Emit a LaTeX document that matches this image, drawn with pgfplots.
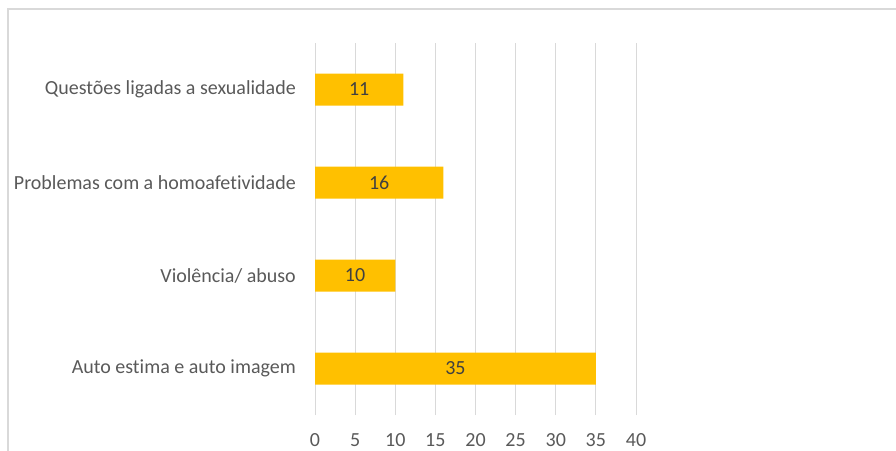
\documentclass[border=0pt]{standalone}
\usepackage{fontspec}
\setmainfont{Carlito}[Ligatures=NoCommon]
\usepackage{pgfplots}
\pgfplotsset{compat=1.18}
\definecolor{bargold}{HTML}{FFC000}
\definecolor{gridgray}{HTML}{D9D9D9}
\definecolor{labelgray}{HTML}{595959}
\definecolor{valgray}{HTML}{404040}
\begin{document}
\begin{tikzpicture}
\useasboundingbox (0pt,0pt) rectangle (896pt,-450pt);
\draw[gridgray, line width=1.2pt] (8pt,-470pt) -- (8pt,-9pt) -- (910pt,-9pt);
\begin{axis}[
  at={(315pt,-415pt)}, anchor=south west,
  scale only axis, width=321pt, height=372pt,
  xmin=0, xmax=40, ymin=-0.5, ymax=3.5,
  axis line style={draw=none},
  xtick={0,5,...,40},
  ytick={0,1,2,3},
  yticklabels={Auto estima e auto imagem, Violência/ abuso, Problemas com a homoafetividade, Questões ligadas a sexualidade},
  xmajorgrids, grid style={gridgray, line width=1pt},
  major tick length=0pt,
  /pgf/number format/assume math mode=true,
  tick label style={font=\fontsize{20}{22}\selectfont, text=labelgray},
  yticklabel style={anchor=east, inner sep=0pt, xshift=-19pt},
  xticklabel style={anchor=center, inner sep=0pt, yshift=-25pt},
  clip=false,
]
\addplot[xbar, bar width=32pt, fill=bargold, draw=none] coordinates {(35,0) (10,1) (16,2) (11,3)};
\addplot[only marks, mark=none, nodes near coords, point meta=explicit symbolic,
  every node near coord/.style={anchor=center, font=\fontsize{20}{22}\selectfont, text=valgray}]
  coordinates {(17.5,0)[35] (5,1)[10] (8,2)[16] (5.5,3)[11]};
\end{axis}
\end{tikzpicture}
\end{document}
